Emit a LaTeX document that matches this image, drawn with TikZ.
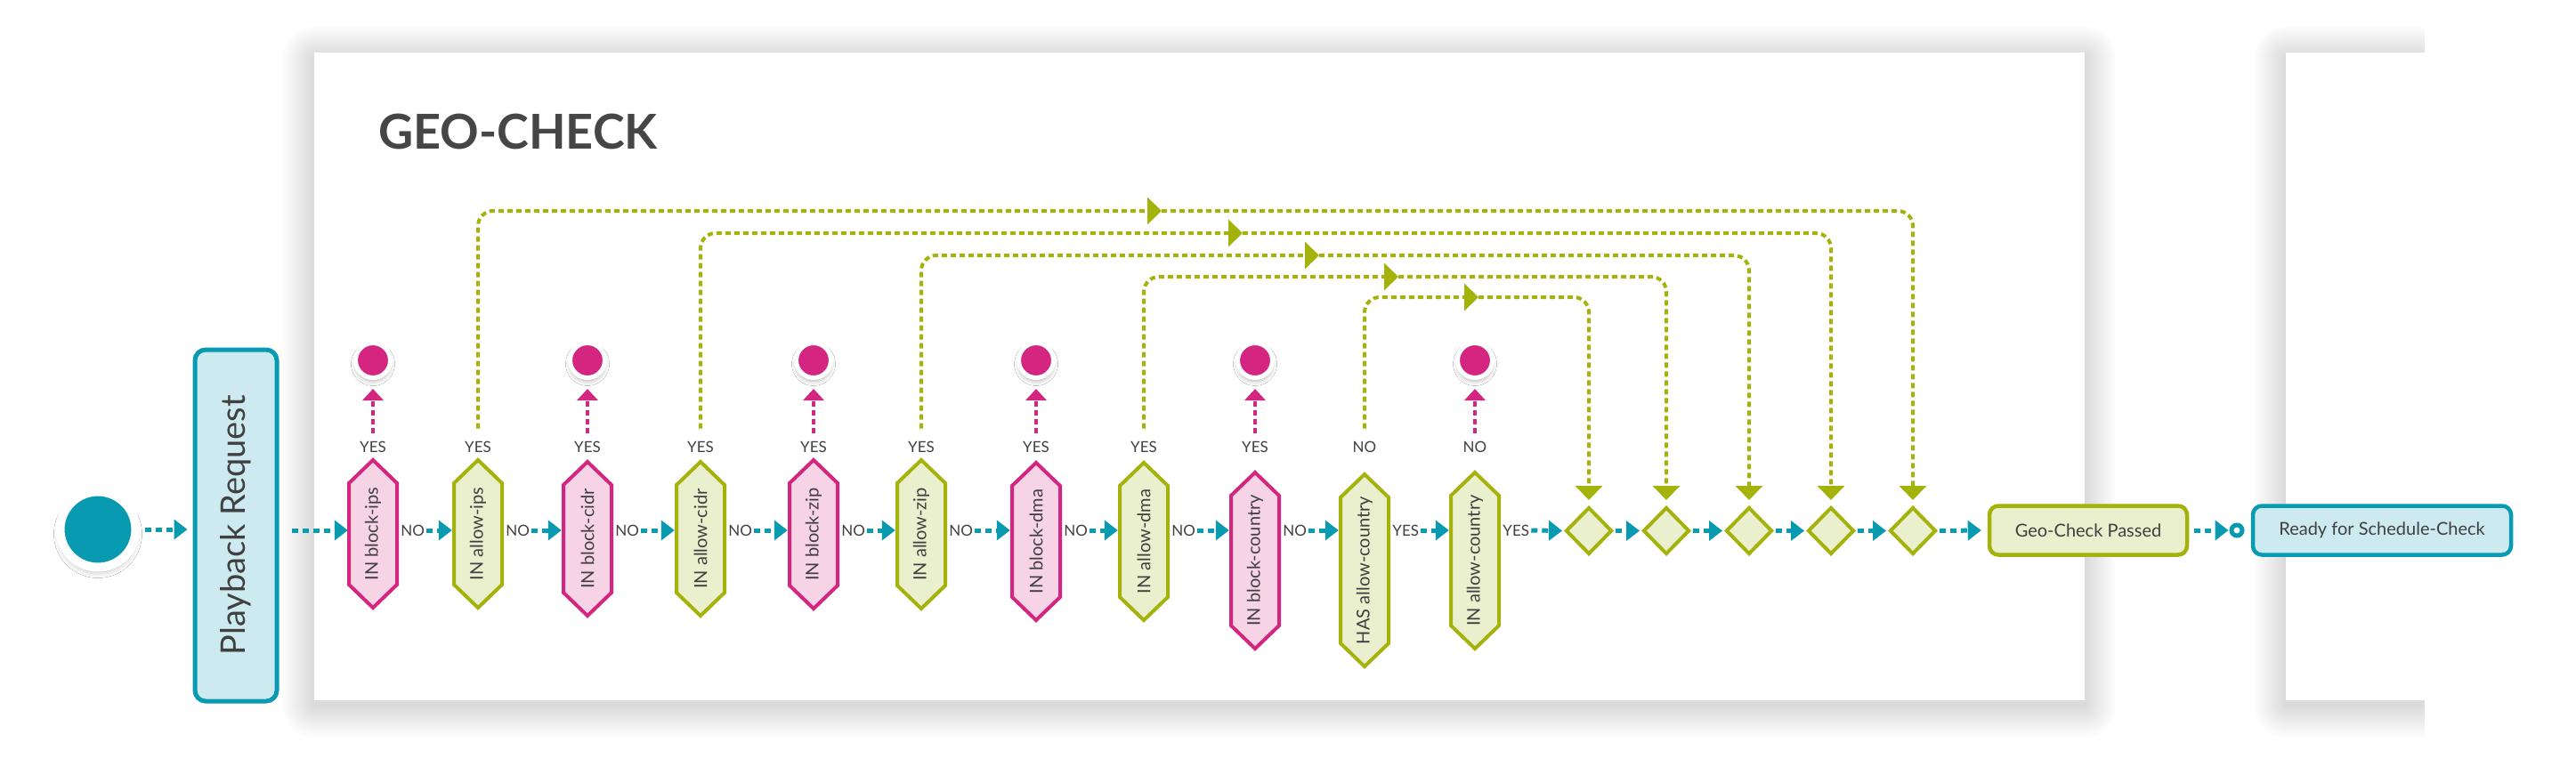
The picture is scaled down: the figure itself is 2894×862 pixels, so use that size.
\documentclass[tikz,border=0pt]{standalone}
\usepackage{fontspec}
\setmainfont{Lato}
\usepackage{graphicx}
\usetikzlibrary{arrows.meta,shapes.geometric,shadows.blur,calc}
\definecolor{cTeal}{RGB}{8,154,177}
\definecolor{cLBlue}{RGB}{205,234,241}
\definecolor{cMag}{RGB}{212,38,128}
\definecolor{cPink}{RGB}{246,212,230}
\definecolor{cGreen}{RGB}{163,179,11}
\definecolor{cLGreen}{RGB}{234,239,206}
\definecolor{cText}{RGB}{64,64,64}
\definecolor{cTitle}{RGB}{70,70,70}
\newcommand\hexnode[6]{%
  \draw[#5] (#2,#3) -- (#2+27,#3+26) -- (#2+27,#4-26) -- (#2,#4) -- (#2-27,#4-26) -- (#2-27,#3+26) -- cycle;
  \node[hexlbl, minimum height=#4-#3] (#1) at (#2,{(#3+#4)/2}) {\rotatebox{90}{#6}};
}
\newcommand\softshadow[4]{%
  \foreach \k in {1,...,18}{%
    \pgfmathsetmacro\rr{2*\k}%
    \fill[black, opacity=0.008, rounded corners=\rr pt] (#1-\rr, #2-\rr+6) rectangle (#3+\rr, #4+\rr+6);
  }%
}
\begin{document}
\begin{tikzpicture}[x=1pt,y=-1pt,
  tealflow/.style={draw=cTeal, line width=5pt, dash pattern=on 7pt off 5pt, -{Triangle[length=15pt,width=22pt]}},
  greenflow/.style={draw=cGreen, line width=4pt, dash pattern=on 6pt off 4pt, -{Triangle[length=16pt,width=30pt]}},
  pinkflow/.style={draw=cMag, line width=4pt, dash pattern=on 6pt off 4pt, -{Triangle[length=13pt,width=23pt]}},
  pinkhex/.style={draw=cMag, fill=cPink, line width=4pt},
  greenhex/.style={draw=cGreen, fill=cLGreen, line width=4pt},
  hexlbl/.style={rectangle, draw=none, minimum width=54pt, inner sep=0pt, text=cText, font=\fontsize{20}{24}\selectfont},
  lbl/.style={inner sep=0pt, text=cText, font=\fontsize{17}{20}\selectfont},
  startc/.style={circle, fill=cTeal, draw=white, line width=10pt, minimum size=85pt, inner sep=0pt,
    blur shadow={shadow xshift=0pt, shadow yshift=-5pt, shadow blur radius=7pt, shadow opacity=30}},
  endc/.style={circle, fill=cMag, draw=white, line width=5pt, minimum size=39pt, inner sep=0pt,
    blur shadow={shadow xshift=0pt, shadow yshift=-4pt, shadow blur radius=5pt, shadow opacity=30}},
  dia/.style={diamond, aspect=1, draw=cGreen, fill=cLGreen, line width=4pt, minimum width=52pt, minimum height=53pt, inner sep=0pt},
  gbox/.style={rectangle, rounded corners=10pt, draw=cGreen, fill=cLGreen, line width=4.5pt, text=cText, font=\fontsize{20}{24}\selectfont, minimum height=55pt},
  tbox/.style={rectangle, rounded corners=10pt, draw=cTeal, fill=cLBlue, line width=4.5pt, text=cText, font=\fontsize{20}{24}\selectfont, minimum height=55pt},
  port/.style={circle, draw=cTeal, fill=white, line width=5pt, minimum size=12pt, inner sep=0pt}
]
\useasboundingbox (0,0) rectangle (2894,862);
\fill[white] (0,0) rectangle (2894,862);
% panels with soft shadows
\begin{scope}
  \clip (0,0) rectangle (2724,862);
  \softshadow{2568}{59}{2990}{787}
  \softshadow{353}{59}{2342}{787}
  \fill[white] (2568,59) rectangle (2990,787);
\end{scope}
\fill[white] (353,59) rectangle (2342,787);

\node[anchor=base west, inner sep=0pt, text=cTitle, font=\bfseries\fontsize{54}{60}\selectfont] (title) at (425,167) {GEO-CHECK};

\coordinate (axis) at (0,596);
\coordinate (ylab) at (0,502);
\coordinate (yend) at (0,405);

% start and request
\node[startc] (start) at (110,595) {};
\node[tbox, rounded corners=12pt, line width=5pt, minimum width=92pt, minimum height=395pt, inner sep=0pt, font=\fontsize{38}{42}\selectfont] (req) at (265,590.5) {\rotatebox{90}{Playback Request}};

% hexagons
\hexnode{h1}{419}{517}{683}{pinkhex}{IN block-ips}
\hexnode{h2}{537}{517}{683}{greenhex}{IN allow-ips}
\hexnode{h3}{660}{519}{692}{pinkhex}{IN block-cidr}
\hexnode{h4}{787}{519}{692}{greenhex}{IN allow-cidr}
\hexnode{h5}{914}{517}{684}{pinkhex}{IN block-zip}
\hexnode{h6}{1035}{517}{684}{greenhex}{IN allow-zip}
\hexnode{h7}{1164}{520}{697}{pinkhex}{IN block-dma}
\hexnode{h8}{1285}{520}{697}{greenhex}{IN allow-dma}
\hexnode{h9}{1410}{531}{729}{pinkhex}{IN block-country}
\hexnode{h10}{1533}{533}{749}{greenhex}{HAS allow-country}
\hexnode{h11}{1657}{531}{729}{greenhex}{IN allow-country}

% diamonds and end boxes
\node[dia] (d1) at (1785,596.5) {};
\node[dia] (d2) at (1872,596.5) {};
\node[dia] (d3) at (1965,596.5) {};
\node[dia] (d4) at (2057,596.5) {};
\node[dia] (d5) at (2149,596.5) {};
\node[gbox, minimum width=222pt] (pass) at (2346,596) {Geo-Check Passed};
\node[port] (pt) at (2513,596) {};
\node[tbox, minimum width=290pt] (ready) at (2676,596) {Ready for Schedule-Check};

% labels above hexagons
\node[lbl] (t1) at (h1 |- ylab) {YES};
\node[lbl] (t2) at (h2 |- ylab) {YES};
\node[lbl] (t3) at (h3 |- ylab) {YES};
\node[lbl] (t4) at (h4 |- ylab) {YES};
\node[lbl] (t5) at (h5 |- ylab) {YES};
\node[lbl] (t6) at (h6 |- ylab) {YES};
\node[lbl] (t7) at (h7 |- ylab) {YES};
\node[lbl] (t8) at (h8 |- ylab) {YES};
\node[lbl] (t9) at (h9 |- ylab) {YES};
\node[lbl] (t10) at (h10 |- ylab) {NO};
\node[lbl] (t11) at (h11 |- ylab) {NO};

% end circles
\node[endc] (e1) at (h1 |- yend) {};
\node[endc] (e3) at (h3 |- yend) {};
\node[endc] (e5) at (h5 |- yend) {};
\node[endc] (e7) at (h7 |- yend) {};
\node[endc] (e9) at (h9 |- yend) {};
\node[endc] (e11) at (h11 |- yend) {};
\foreach \i in {1,3,5,7,9,11}{
  \draw[pinkflow, shorten <=9pt, shorten >=10pt] (t\i.north) -- (e\i.south);
}

% labels on main line
\node[lbl, anchor=west, xshift=4pt] (o1) at (h1.east |- axis) {NO};
\node[lbl, anchor=west, xshift=4pt] (o2) at (h2.east |- axis) {NO};
\node[lbl, anchor=west, xshift=4pt] (o3) at (h3.east |- axis) {NO};
\node[lbl, anchor=west, xshift=4pt] (o4) at (h4.east |- axis) {NO};
\node[lbl, anchor=west, xshift=4pt] (o5) at (h5.east |- axis) {NO};
\node[lbl, anchor=west, xshift=4pt] (o6) at (h6.east |- axis) {NO};
\node[lbl, anchor=west, xshift=4pt] (o7) at (h7.east |- axis) {NO};
\node[lbl, anchor=west, xshift=4pt] (o8) at (h8.east |- axis) {NO};
\node[lbl, anchor=west, xshift=4pt] (o9) at (h9.east |- axis) {NO};
\node[lbl, anchor=west, xshift=4pt] (o10) at (h10.east |- axis) {YES};
\node[lbl, anchor=west, xshift=4pt] (o11) at (h11.east |- axis) {YES};

% main teal flow
\draw[tealflow, shorten <=5pt, shorten >=6pt] (start.east) -- (req.west |- start.east);
\draw[tealflow, shorten <=14pt, shorten >=1pt] (req.east |- axis) -- (h1.west |- axis);
\foreach \i/\j in {1/2,2/3,3/4,4/5,5/6,6/7,7/8,8/9,9/10,10/11}{
  \draw[tealflow, shorten <=2pt, shorten >=2pt] (o\i.east) -- (h\j.west |- axis);
}
\draw[tealflow, shorten <=2pt, shorten >=2pt] (o11.east) -- (d1.west);
\draw[tealflow, shorten <=2pt, shorten >=2pt] (d1.east) -- (d2.west);
\draw[tealflow, shorten <=2pt, shorten >=2pt] (d2.east) -- (d3.west);
\draw[tealflow, shorten <=2pt, shorten >=2pt] (d3.east) -- (d4.west);
\draw[tealflow, shorten <=2pt, shorten >=2pt] (d4.east) -- (d5.west);
\draw[tealflow, shorten <=2pt, shorten >=7pt] (d5.east) -- (pass.west);
\draw[tealflow, shorten <=6pt, shorten >=1pt] (pass.east) -- (pt.west);

% green skip loops
\coordinate (m2) at (1305,237);
\coordinate (m4) at (1396,262);
\coordinate (m6) at (1482,287);
\coordinate (m8) at (1571,311);
\coordinate (m10) at (1661,334);
\draw[greenflow, rounded corners=17pt, shorten <=14pt] (t2.north) |- (m2);
\draw[greenflow, rounded corners=17pt, shorten >=6pt] (m2) -| (d5.north);
\draw[greenflow, rounded corners=17pt, shorten <=14pt] (t4.north) |- (m4);
\draw[greenflow, rounded corners=17pt, shorten >=6pt] (m4) -| (d4.north);
\draw[greenflow, rounded corners=17pt, shorten <=14pt] (t6.north) |- (m6);
\draw[greenflow, rounded corners=17pt, shorten >=6pt] (m6) -| (d3.north);
\draw[greenflow, rounded corners=17pt, shorten <=14pt] (t8.north) |- (m8);
\draw[greenflow, rounded corners=17pt, shorten >=6pt] (m8) -| (d2.north);
\draw[greenflow, rounded corners=17pt, shorten <=14pt] (t10.north) |- (m10);
\draw[greenflow, rounded corners=17pt, shorten >=6pt] (m10) -| (d1.north);
\end{tikzpicture}
\end{document}
